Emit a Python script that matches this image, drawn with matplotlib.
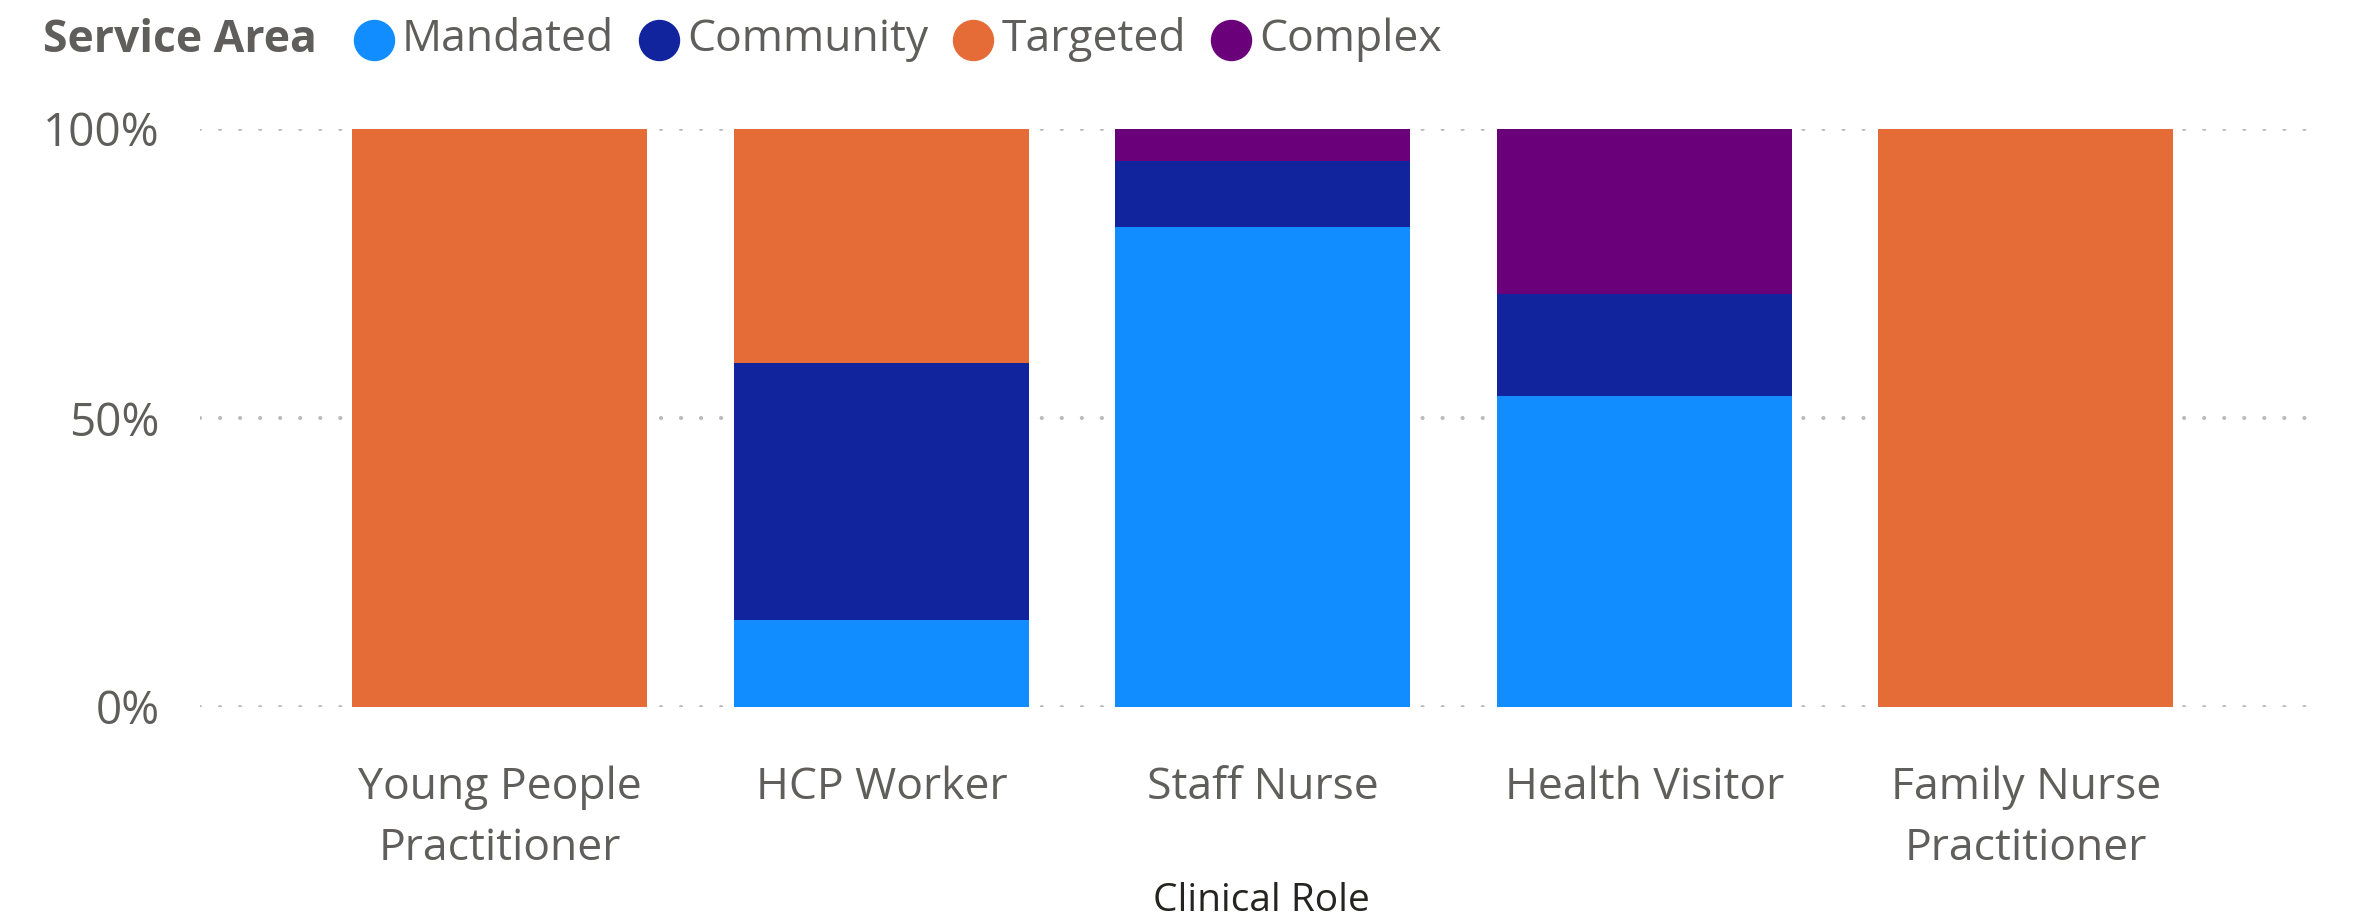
import numpy as np
import matplotlib.pyplot as plt
from matplotlib.lines import Line2D

plt.rcParams['font.family'] = ['Open Sans', 'DejaVu Sans']

# data (percent of each clinical role)
roles = ['Young People\nPractitioner', 'HCP Worker', 'Staff Nurse', 'Health Visitor', 'Family Nurse\nPractitioner']
service_areas = ['Mandated', 'Community', 'Targeted', 'Complex']
mandated = [0, 15.1, 83.0, 53.8, 0]
community = [0, 44.4, 11.5, 17.7, 0]
targeted = [100, 40.5, 0, 0, 100]
complex_ = [0, 0, 5.5, 28.5, 0]
colors = ['#118DFF', '#12239E', '#E66C37', '#6B007B']

W, H = 2372, 919
fig = plt.figure(figsize=(W / 100, H / 100), dpi=100)
ax = fig.add_axes([200 / W, 1 - 707 / H, (2322 - 200) / W, (707 - 129) / H])

x = np.arange(len(roles))
bottom = np.zeros(len(roles))
for vals, c in zip([mandated, community, targeted, complex_], colors):
    ax.bar(x, vals, width=0.773, bottom=bottom, color=c, zorder=3)
    bottom += np.array(vals)

ax.set_xlim(-0.786, 4.776)
ax.set_ylim(0, 100)
ax.set_yticks([0, 50, 100])
ax.set_yticklabels(['0%', '50%', '100%'])
ax.set_xticks(x)
ax.set_xticklabels(roles, linespacing=1.5)
ax.tick_params(axis='y', length=0, pad=29, labelsize=33, labelcolor='#605E5C')
ax.tick_params(axis='x', length=0, pad=42, labelsize=32, labelcolor='#605E5C')
for s in ax.spines.values():
    s.set_visible(False)
ax.set_axisbelow(True)
ax.yaxis.grid(True, color='#BDBBB9', linewidth=3.0, linestyle=(0, (0.01, 4.8)),
              dash_capstyle='round')

fig.text(1261 / W, 1 - 901 / H, 'Clinical Role', ha='center', va='center',
         fontsize=28, color='#252423')

# legend row at the top
fig.canvas.draw()
r = fig.canvas.get_renderer()
yc = 1 - 40 / H
px = 43
t = fig.text(px / W, yc, 'Service Area', ha='left', va='center', fontsize=32,
             fontweight='bold', color='#605E5C')
px += t.get_window_extent(r).width + 37
for name, c in zip(service_areas, colors):
    fig.add_artist(Line2D([(px + 20) / W], [yc], marker='o', markersize=28.8,
                          color=c, linestyle='none', transform=fig.transFigure))
    px += 48
    t = fig.text(px / W, yc, name, ha='left', va='center', fontsize=32, color='#605E5C')
    px += t.get_window_extent(r).width + 25

fig.savefig('out.png', dpi=100)
